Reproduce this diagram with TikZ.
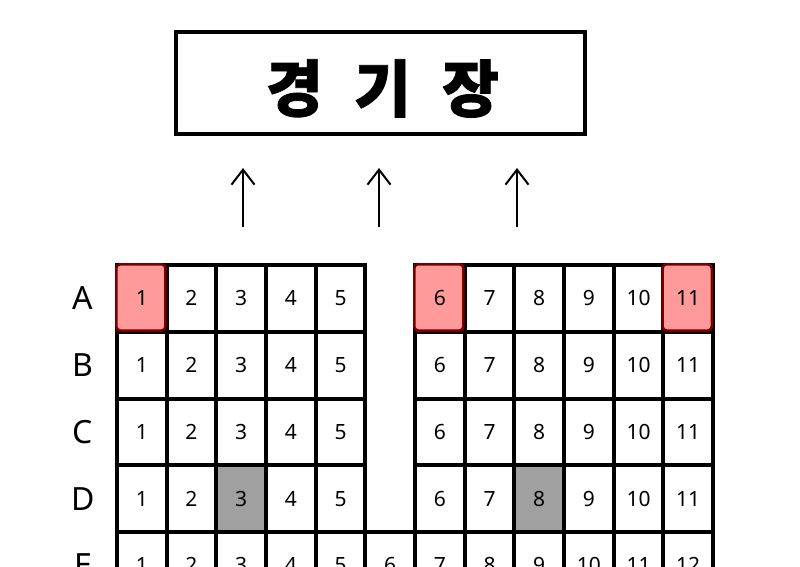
\documentclass[tikz,border=0pt]{standalone}
\usepackage{fontspec}
\setmainfont{Noto Sans}
\newfontfamily\cjk[FakeBold=1.2]{Noto Sans CJK KR}
\usetikzlibrary{arrows.meta}
\definecolor{seatpink}{HTML}{FF9A9A}
\definecolor{seatred}{HTML}{7A0000}
\definecolor{seatgray}{HTML}{A0A0A0}
\pgfdeclarelayer{back}
\pgfdeclarelayer{grid}
\pgfdeclarelayer{marks}
\pgfsetlayers{back,grid,marks,main}
\begin{document}
\begin{tikzpicture}[x=1pt,y=-1pt,
  seat/.style={minimum width=49.667pt, minimum height=66.75pt, inner sep=0pt, outer sep=0pt,
    font=\fontsize{21}{21}\selectfont},
  gridline/.style={draw=black, line width=4pt},
  picked/.style={draw=seatred, fill=seatpink, line width=2.5pt, rounded corners=4pt},
  rowlabel/.style={font=\fontsize{32}{32}\selectfont, inner sep=0pt},
  titlebox/.style={draw=black, line width=4pt, minimum width=409pt, minimum height=102pt, inner sep=0pt,
    font=\cjk\bfseries\fontsize{62}{62}\selectfont},
  entry/.style={line width=2pt, -{Straight Barb[length=15pt,width=23pt,line width=2pt]}}
]
\useasboundingbox (0,0) rectangle (800,566);
\clip (0,0) rectangle (800,566);
\begin{pgfonlayer}{back}
  \fill[white] (0,0) rectangle (800,566);
\end{pgfonlayer}

% title
\node[titlebox] (title) at (380.5,83)
  {\raisebox{0pt}[\dimexpr\height+11pt\relax][\depth]{\spaceskip=31pt\relax\hspace*{4pt}경 기 장}};

% arrows
\foreach \k/\ax in {1/243,2/379,3/517} {
  \coordinate (b\k) at (\ax,227);
  \coordinate (t\k) at (\ax,168);
  \draw[entry] (b\k) -- (t\k);
}

% row labels
\foreach \r [count=\j] in {A,B,C,D,E} {
  \node[rowlabel] (row-\r) at (83,{265+66.75*(\j-0.5)}) {\r};
}

% seats rows A-D
\foreach \r [count=\j] in {A,B,C,D} {
  \foreach \n in {1,...,11} {
    \pgfmathsetmacro{\col}{\n<6 ? \n : \n+1}
    \node[seat] (s-\r-\n) at ({117+49.667*(\col-0.5)},{265+66.75*(\j-0.5)}) {\n};
    \begin{pgfonlayer}{grid}
      \draw[gridline] (s-\r-\n.north west) rectangle (s-\r-\n.south east);
    \end{pgfonlayer}
  }
}
% row E
\foreach \n in {1,...,12} {
  \node[seat] (s-E-\n) at ({117+49.667*(\n-0.5)},{265+66.75*4.5}) {\n};
  \begin{pgfonlayer}{grid}
    \draw[gridline] (s-E-\n.north west) rectangle (s-E-\n.south east);
  \end{pgfonlayer}
}

% taken seats
\begin{pgfonlayer}{back}
  \foreach \s in {D-3,D-8} {
    \fill[seatgray] (s-\s.north west) rectangle (s-\s.south east);
  }
\end{pgfonlayer}

% picked seats
\begin{pgfonlayer}{marks}
  \foreach \s in {A-1,A-6,A-11} {
    \draw[picked] ([shift={(-0.75,-0.75)}]s-\s.north west) rectangle ([shift={(-1.25,-1.25)}]s-\s.south east);
  }
\end{pgfonlayer}
\end{tikzpicture}
\end{document}
